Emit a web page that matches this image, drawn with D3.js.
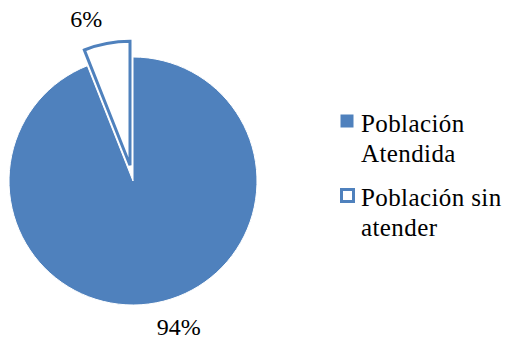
<!DOCTYPE html>
<html>
<head>
<meta charset="utf-8">
<script src="https://cdn.jsdelivr.net/npm/d3@7"></script>
<style>
  html, body { margin: 0; padding: 0; background: #fff; }
  svg { display: block; }
</style>
</head>
<body>
<svg id="chart" width="507" height="339"></svg>
<script>
// Data
const categories = ["Población Atendida", "Población sin atender"];
const values = [94, 6];
const percentLabels = ["94%", "6%"];
const legendLines = [["Población", "Atendida"], ["Población sin", "atender"]];

const blue = "#4F81BD";
const serif = "Liberation Serif";
const svg = d3.select("#chart");

const cx = 133, cy = 181, r = 124;
const explodeDist = 16;
const labelR = 148;

const pie = d3.pie().sort(null).value(d => d.value);
const arcs = pie(categories.map((c, i) => ({ name: c, value: values[i], label: percentLabels[i] })));
const arc = d3.arc().innerRadius(0).outerRadius(r);
const labelArc = d3.arc().innerRadius(labelR).outerRadius(labelR);

const g = svg.append("g").attr("transform", `translate(${cx},${cy})`);

arcs.forEach((a, i) => {
  const mid = (a.startAngle + a.endAngle) / 2;
  const off = i === 1 ? explodeDist : 0;
  const dx = off * Math.sin(mid), dy = -off * Math.cos(mid);
  const sg = g.append("g").attr("transform", `translate(${dx},${dy})`);
  if (i === 0) {
    sg.append("path").attr("d", arc(a)).attr("fill", blue).attr("stroke", "#fff").attr("stroke-width", 1);
  } else {
    sg.append("path").attr("d", arc(a)).attr("fill", "#fff").attr("stroke", blue)
      .attr("stroke-width", 3).attr("stroke-linejoin", "miter");
  }
  // percentage label just outside the slice, anchored on its near side
  const [lx, ly] = labelArc.centroid(a);
  const left = lx < 0;
  sg.append("text")
    .attr("x", lx + (left ? 0 : -4))
    .attr("y", ly + (ly < 0 ? -1 : 0.5))
    .attr("dy", "0.35em")
    .attr("text-anchor", left ? "end" : "start")
    .attr("font-family", serif)
    .attr("font-size", 24)
    .attr("fill", "#000")
    .text(a.data.label);
});

// Legend
const legend = svg.append("g").attr("transform", "translate(340,114)");
const rowY = [0, 74];
categories.forEach((c, i) => {
  const row = legend.append("g").attr("transform", `translate(0,${rowY[i]})`);
  if (i === 0) {
    row.append("rect").attr("x", 0.5).attr("y", 0.5).attr("width", 13).attr("height", 13).attr("fill", blue);
  } else {
    row.append("rect").attr("x", 1.5).attr("y", 1.5).attr("width", 12).attr("height", 12)
      .attr("fill", "#fff").attr("stroke", blue).attr("stroke-width", 3);
  }
  legendLines[i].forEach((line, j) => {
    row.append("text")
      .attr("x", 21)
      .attr("y", 17.5 + j * 30)
      .attr("font-family", serif)
      .attr("font-size", 25)
      .attr("letter-spacing", "0.4px")
      .attr("fill", "#000")
      .text(line);
  });
});
</script>
</body>
</html>
